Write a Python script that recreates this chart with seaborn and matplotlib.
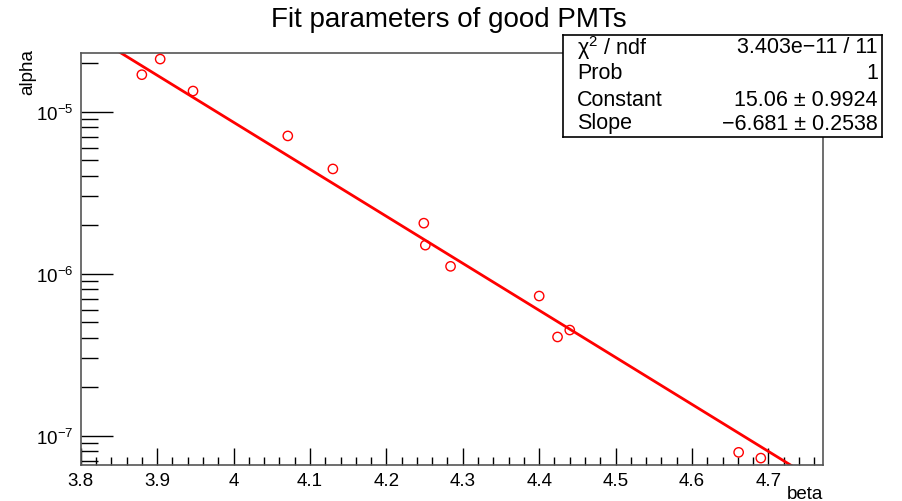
import numpy as np
import pandas as pd
import seaborn as sns
import matplotlib
matplotlib.use("Agg")
import matplotlib.pyplot as plt
from matplotlib.ticker import LogLocator, MultipleLocator, FixedLocator

# Data
beta = [3.880, 3.904, 3.947, 4.071, 4.130, 4.249, 4.251, 4.284, 4.400, 4.424, 4.440, 4.661, 4.690]
alpha = [1.69e-5, 2.11e-5, 1.34e-5, 7.08e-6, 4.43e-6, 2.05e-6, 1.50e-6, 1.11e-6,
         7.28e-7, 4.07e-7, 4.49e-7, 7.9e-8, 7.28e-8]

fit_constant = 15.06
fit_slope = -6.681
stats_labels = ["\u03c7$^{2}$ / ndf", "Prob", "Constant", "Slope"]
stats_values = ["3.403e\u221211 / 11", "1", "15.06 \u00b1 0.9924", "\u22126.681 \u00b1 0.2538"]

x_ticks = [3.8, 3.9, 4.0, 4.1, 4.2, 4.3, 4.4, 4.5, 4.6, 4.7]
x_ticklabels = ["3.8", "3.9", "4", "4.1", "4.2", "4.3", "4.4", "4.5", "4.6", "4.7"]
xlim = (3.8, 4.771)
ylim = (6.6e-8, 2.3e-5)

sns.set_theme(style="white")
plt.rcParams['font.family'] = ['Liberation Sans', 'DejaVu Sans']
plt.rcParams['mathtext.fontset'] = 'custom'
plt.rcParams['mathtext.rm'] = 'Liberation Sans'
plt.rcParams['mathtext.it'] = 'Liberation Sans:italic'
plt.rcParams['text.color'] = 'black'
plt.rcParams['xtick.color'] = 'black'
plt.rcParams['ytick.color'] = 'black'
plt.rcParams['xtick.labelcolor'] = 'black'
plt.rcParams['ytick.labelcolor'] = 'black'

fig = plt.figure(figsize=(9.03, 5.02), dpi=100)
W, H = 903, 502
ax = fig.add_axes([80.7 / W, 1 - 466 / H, (822.7 - 80.7) / W, (466 - 54) / H])

df = pd.DataFrame({"beta": beta, "alpha": alpha})

# fit curve (expo: exp(Constant + Slope*x))
xf = np.linspace(xlim[0], xlim[1], 400)
yf = np.exp(fit_constant + fit_slope * xf)
fit_df = pd.DataFrame({"beta": xf, "alpha": yf})
sns.lineplot(data=fit_df, x="beta", y="alpha", ax=ax, color="#ff0000", lw=2, zorder=2)

sns.scatterplot(data=df, x="beta", y="alpha", ax=ax, marker="o", s=45,
                facecolors="none", edgecolor="#ff0000", linewidth=1.0, zorder=3)

ax.set_yscale("log")
ax.set_xlim(*xlim)
ax.set_ylim(*ylim)

ax.xaxis.set_major_locator(FixedLocator(x_ticks))
ax.set_xticklabels(x_ticklabels)
ax.xaxis.set_minor_locator(MultipleLocator(0.02))
ax.yaxis.set_major_locator(LogLocator(base=10, numticks=10))
ax.yaxis.set_minor_locator(LogLocator(base=10, subs=np.arange(2, 10), numticks=20))
ax.yaxis.set_minor_formatter(matplotlib.ticker.NullFormatter())

ax.tick_params(axis="x", which="major", direction="in", length=12, width=1, labelsize=13.5,
               color="black", pad=5, bottom=True, top=False)
ax.tick_params(axis="x", which="minor", direction="in", length=6, width=1, color="black",
               bottom=True, top=False)
ax.tick_params(axis="y", which="major", direction="in", length=23, width=1, labelsize=13.5,
               color="black", pad=5, left=True, right=False)
ax.tick_params(axis="y", which="minor", direction="in", length=12, width=1, color="black",
               left=True, right=False)

for s in ax.spines.values():
    s.set_color("#555555")
    s.set_linewidth(1.2)

ax.set_xlabel("")
ax.set_ylabel("")
fig.text(805 / W, 1 - 495 / H, "beta", ha="center", va="center", fontsize=13.5)
fig.text(28 / W, 1 - 72 / H, "alpha", ha="center", va="center", rotation=90, fontsize=13.5)
fig.text(449 / W, 1 - 20 / H, "Fit parameters of good PMTs", ha="center", va="center", fontsize=20)

# stats box
bx0, by0, bx1, by1 = 563, 36, 882, 138
box_ax = fig.add_axes([bx0 / W, 1 - by1 / H, (bx1 - bx0) / W, (by1 - by0) / H])
box_ax.set_xticks([]); box_ax.set_yticks([])
box_ax.set_facecolor("white")
for s in box_ax.spines.values():
    s.set_color("black"); s.set_linewidth(1.2)
box_ax.set_xlim(bx0, bx1); box_ax.set_ylim(by1, by0)
row_y = [48, 74, 100, 124]
for lab, val, yy in zip(stats_labels, stats_values, row_y):
    box_ax.text(577, yy, lab, ha="left", va="center", fontsize=15.5)
    box_ax.text(878, yy, val, ha="right", va="center", fontsize=15.5)

fig.savefig("out.png", dpi=100)
